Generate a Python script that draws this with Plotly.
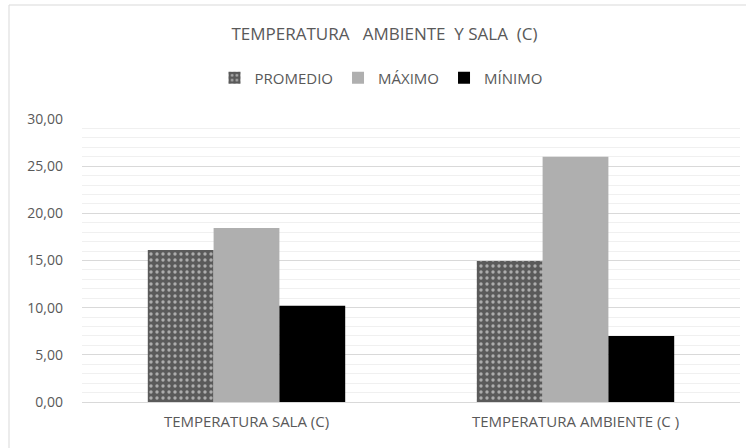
import plotly.graph_objects as go

categories = ["TEMPERATURA SALA (C)", "TEMPERATURA AMBIENTE (C )"]
promedio = [16.1, 14.95]
maximo = [18.45, 26.0]
minimo = [10.2, 7.0]
tick_vals = [0, 5, 10, 15, 20, 25, 30]
tick_text = ["0,00", "5,00", "10,00", "15,00", "20,00", "25,00", "30,00"]

FONT = "Open Sans, Liberation Sans, sans-serif"
TXT = "#595959"

fig = go.Figure()
fig.add_trace(go.Bar(
    x=categories, y=promedio, name="PROMEDIO",
    marker=dict(color="#5a5a5a", line=dict(width=0),
                pattern=dict(shape=".", fgcolor="white", size=6, solidity=0.25,
                             fillmode="overlay")),
))
fig.add_trace(go.Bar(
    x=categories, y=maximo, name="MÁXIMO",
    marker=dict(color="#afafaf", line=dict(width=0)),
))
fig.add_trace(go.Bar(
    x=categories, y=minimo, name="MÍNIMO",
    marker=dict(color="#000000", line=dict(width=0)),
))

fig.update_layout(
    width=746, height=448,
    paper_bgcolor="white", plot_bgcolor="white",
    margin=dict(l=82, r=6, t=119, b=46, autoexpand=False),
    barmode="group", bargap=0.4, bargroupgap=0,
    font=dict(family=FONT, color=TXT, size=12),
    title=dict(text="TEMPERATURA&nbsp;&nbsp;&nbsp;AMBIENTE&nbsp;&nbsp;Y SALA&nbsp;&nbsp;(C)",
               x=(228 + 541) / 2 / 746, xref="container", y=(448 - 34) / 448, yref="container",
               xanchor="center", yanchor="middle",
               font=dict(family=FONT, size=17, color=TXT)),
    legend=dict(orientation="h", x=(222 + 540) / 2 / 746, xanchor="center", xref="container",
                y=(448 - 78) / 448, yref="container", yanchor="middle",
                font=dict(family=FONT, size=15, color=TXT),
                itemwidth=30, traceorder="normal"),
    showlegend=True,
)
fig.update_xaxes(showgrid=False, showline=True, linecolor="#d9d9d9", linewidth=1,
                 ticks="", automargin=False, ticklabelstandoff=6,
                 tickfont=dict(family=FONT, size=15, color=TXT))
fig.update_yaxes(range=[0, 30], tickvals=tick_vals, ticktext=tick_text,
                 showgrid=True, gridcolor="#d9d9d9", gridwidth=1,
                 minor=dict(dtick=1, showgrid=True, gridcolor="#f0f0f0", gridwidth=1),
                 zeroline=False, showline=False, ticks="", automargin=False,
                 ticklabelstandoff=18,
                 tickfont=dict(family=FONT, size=14, color=TXT))

fig.add_shape(type="rect", xref="paper", yref="paper",
              x0=-(82 - 9) / 658, x1=1.1, y0=-0.5, y1=1 + (119 - 5) / 283,
              line=dict(color="#d9d9d9", width=1), fillcolor="rgba(0,0,0,0)", layer="below")

fig.write_html("out.html", config={"displayModeBar": False},
               post_script="document.body.style.margin='0';document.body.style.overflow='hidden';")
